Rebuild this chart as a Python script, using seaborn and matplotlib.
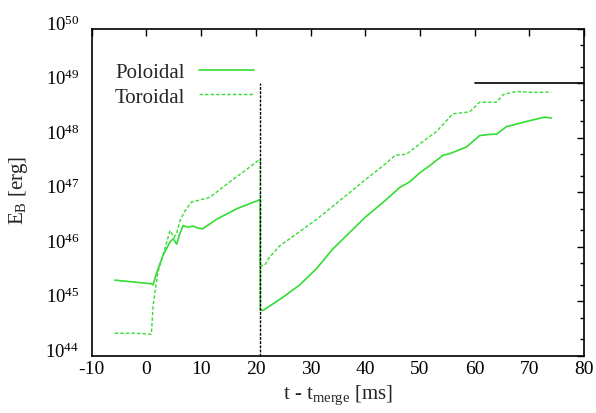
import matplotlib
matplotlib.use("Agg")
import matplotlib.pyplot as plt
import matplotlib.transforms as mtrans
import seaborn as sns
import pandas as pd
import numpy as np
from matplotlib.ticker import LogLocator, FixedLocator

# ---- data ----
t_pol = [-5.8, -3.0, 0.9, 1.2, 1.8, 3.0, 4.3, 4.9, 5.5, 6.1, 6.7, 7.5, 8.5, 9.5, 10.3,
         12.8, 16.5, 20.4, 20.8, 20.8, 21.3, 25.0, 28.0, 31.1, 34.0, 37.2, 40.0, 43.3,
         46.3, 48.1, 50.0, 52.0, 54.2, 55.4, 58.5, 60.9, 62.5, 64.0, 65.8, 69.5, 72.8, 74.0]
E_pol = [2.45e45, 2.3e45, 2.1e45, 2.0e45, 3.2e45, 6.9e45, 1.23e46, 1.41e46, 1.12e46,
         1.74e46, 2.45e46, 2.3e46, 2.4e46, 2.2e46, 2.15e46, 3.2e46, 5.0e46, 7.1e46,
         7.5e46, 7.0e44, 6.8e44, 1.2e45, 2.0e45, 4.0e45, 9.0e45, 1.86e46, 3.5e46,
         6.6e46, 1.23e47, 1.55e47, 2.3e47, 3.2e47, 4.8e47, 5.1e47, 6.8e47, 1.1e48,
         1.15e48, 1.17e48, 1.6e48, 2.0e48, 2.4e48, 2.3e48]

t_tor = [-5.8, -2.0, 0.9, 1.2, 2.1, 3.0, 4.3, 5.0, 5.5, 6.1, 7.0, 8.2, 11.6, 15.2, 18.0,
         20.4, 20.8, 20.8, 21.6, 22.5, 24.4, 28.0, 31.1, 34.0, 37.2, 40.0, 43.3, 45.5,
         47.5, 50.0, 53.0, 56.0, 59.1, 60.9, 64.0, 65.2, 67.6, 70.7, 74.0]
E_tor = [2.6e44, 2.6e44, 2.5e44, 8.3e44, 3.5e45, 6.9e45, 2.0e46, 1.5e46, 1.75e46,
         3.0e46, 4.5e46, 6.6e46, 8.1e46, 1.55e47, 2.5e47, 3.8e47, 4.0e47, 4.5e45,
         4.6e45, 6.5e45, 1.05e46, 1.9e46, 3.2e46, 5.5e46, 1.0e47, 1.7e47, 3.1e47,
         4.8e47, 5.0e47, 7.8e47, 1.3e48, 2.75e48, 3.0e48, 4.5e48, 4.5e48, 6.2e48,
         7.1e48, 6.8e48, 6.9e48]

merge_t = 20.8          # vertical marker line
marker_E = [1e44, 1e49]
ref_E = 1e49            # horizontal reference line
ref_t = [60, 80]

x_ticks = [-10, 0, 10, 20, 30, 40, 50, 60, 70, 80]
y_ticks = [1e44, 1e45, 1e46, 1e47, 1e48, 1e49, 1e50]
y_labels = [r"$10^{44}$", r"$10^{45}$", r"$10^{46}$", r"$10^{47}$", r"$10^{48}$",
            r"$10^{49}$", r"$10^{50}$"]

sns.set_style("white")
plt.rcParams["font.family"] = ["Liberation Serif", "DejaVu Serif"]
plt.rcParams["mathtext.fontset"] = "custom"
plt.rcParams["mathtext.rm"] = "Liberation Serif"
plt.rcParams["mathtext.it"] = "Liberation Serif"

fig = plt.figure(figsize=(5.96, 4.14), dpi=100)
ax = fig.add_axes([0.154, 0.138, 0.826, 0.790])

green = "#33dd33"
df_pol = pd.DataFrame({"t": t_pol, "E": E_pol})
df_tor = pd.DataFrame({"t": t_tor, "E": E_tor})
sns.lineplot(data=df_pol, x="t", y="E", sort=False, estimator=None, ax=ax,
             color=green, lw=1.2, label="Poloidal")
sns.lineplot(data=df_tor, x="t", y="E", sort=False, estimator=None, ax=ax,
             color=green, lw=1.0, dashes=False, label="Toroidal")
ax.lines[-1].set_dashes([2.5, 1.5])

ax.plot([merge_t, merge_t], marker_E, color="black", lw=1.0, ls=(0, (2, 1)))
ax.plot(ref_t, [ref_E, ref_E], color="black", lw=1.2)

ax.set_yscale("log")
ax.set_xlim(-10, 80)
ax.set_ylim(1e44, 1e50)
ax.xaxis.set_major_locator(FixedLocator(x_ticks))
ax.set_xticklabels([str(v) for v in x_ticks])
ax.yaxis.set_major_locator(FixedLocator(y_ticks))
ax.set_yticklabels(y_labels)
ax.yaxis.set_minor_locator(LogLocator(base=10, subs=(2.0, 5.0)))
ax.yaxis.set_minor_formatter(matplotlib.ticker.NullFormatter())

ax.tick_params(which="both", direction="in", top=True, right=True, labelsize=14,
               colors="black")
ax.tick_params(which="major", length=5, width=1)
ax.tick_params(which="minor", length=3, width=1)
ax.tick_params(axis="x", pad=3)
ax.tick_params(axis="y", pad=9, labelsize=13.5)
shift = mtrans.ScaledTranslation(0, 5 / 72, fig.dpi_scale_trans)
for tk in ax.yaxis.get_major_ticks():
    tk.label1.set_transform(tk.label1.get_transform() + shift)
for s in ax.spines.values():
    s.set_color("black")
    s.set_linewidth(1.2)

ax.set_xlabel(r"t - t$_{\rm merge}$ [ms]", fontsize=15, labelpad=4)
ax.set_ylabel(r"E$_{\rm B}$ [erg]", fontsize=15)
ax.yaxis.set_label_coords(-0.126, 0.51)

leg = ax.legend(loc="upper left", bbox_to_anchor=(0.008, 0.955), frameon=False,
                markerfirst=False, fontsize=15, handlelength=2.6, handletextpad=0.7,
                labelspacing=0.25)

fig.savefig("out.png", dpi=100, facecolor="white")
